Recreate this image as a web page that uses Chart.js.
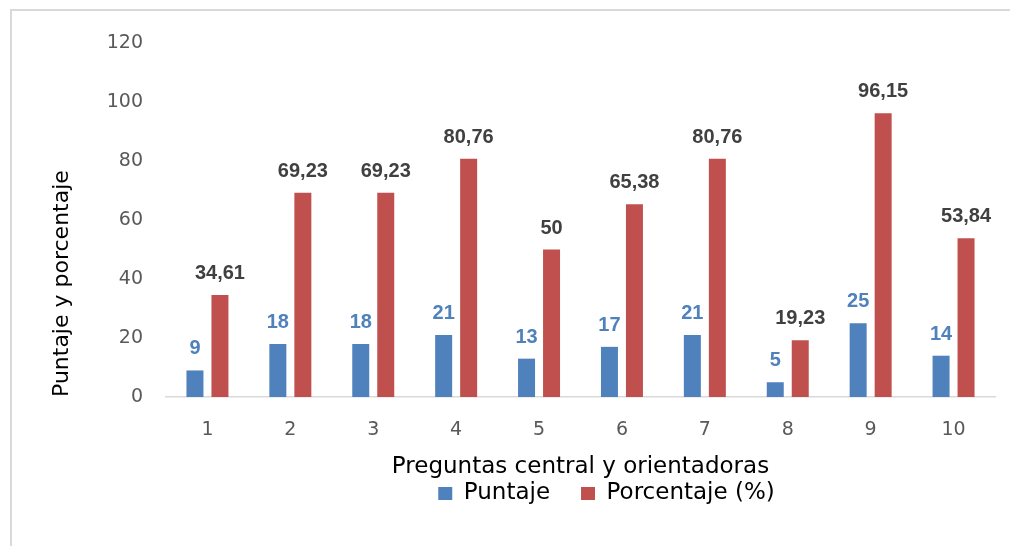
<!DOCTYPE html>
<html>
<head>
<meta charset="utf-8">
<script src="https://cdn.jsdelivr.net/npm/chart.js@4/dist/chart.umd.min.js"></script>
<style>
  html, body { margin: 0; padding: 0; background: #ffffff; }
  #wrap { position: relative; width: 1010px; height: 546px; overflow: hidden; }
  #frame { position: absolute; left: 10px; top: 9px; width: 1100px; height: 600px;
           border-left: 2px solid #d9d9d9; border-top: 2px solid #d9d9d9; box-sizing: border-box; }
  canvas { position: absolute; left: 0; top: 0; }
</style>
</head>
<body>
<div id="wrap">
  <div id="frame"></div>
  <canvas id="c" width="1010" height="546"></canvas>
</div>
<script>
const categories = ['1', '2', '3', '4', '5', '6', '7', '8', '9', '10'];
const puntaje = [9, 18, 18, 21, 13, 17, 21, 5, 25, 14];
const porcentaje = [34.61, 69.23, 69.23, 80.76, 50, 65.38, 80.76, 19.23, 96.15, 53.84];
const seriesNames = ['Puntaje', 'Porcentaje (%)'];
const yTitle = 'Puntaje y porcentaje';
const xTitle = 'Preguntas central y orientadoras';

const valueLabels = {
  id: 'valueLabels',
  afterDatasetsDraw(chart) {
    const ctx = chart.ctx;
    ctx.save();
    ctx.font = 'bold 20px "Liberation Sans", Arial, sans-serif';
    ctx.textAlign = 'center';
    ctx.textBaseline = 'alphabetic';
    chart.data.datasets.forEach((ds, i) => {
      const meta = chart.getDatasetMeta(i);
      ctx.fillStyle = ds.labelColor;
      meta.data.forEach((el, j) => {
        const txt = String(ds.data[j]).replace('.', ',');
        ctx.fillText(txt, el.x, el.y - 16);
      });
    });
    ctx.restore();
  }
};

const legendShift = {
  id: 'legendShift',
  afterLayout(chart) {
    const lg = chart.legend;
    if (!lg || !lg.lineWidths) return;
    const pad = lg.options.labels.padding;
    const groupW = lg.lineWidths[0] - pad;
    const target = (chart.chartArea.left + chart.chartArea.right) / 2 + 26;
    const current = (lg.left + pad + lg.right - lg.lineWidths[0]) / 2 + groupW / 2;
    const dx = target - current;
    lg.left += dx; lg.right += dx;
  }
};

new Chart(document.getElementById('c'), {
  type: 'bar',
  data: {
    labels: categories,
    datasets: [
      { label: seriesNames[0], data: puntaje, backgroundColor: '#4f81bd', labelColor: '#4f81bd',
        categoryPercentage: 0.603, barPercentage: 0.68 },
      { label: seriesNames[1], data: porcentaje, backgroundColor: '#c0504d', labelColor: '#404040',
        categoryPercentage: 0.603, barPercentage: 0.68 }
    ]
  },
  options: {
    responsive: false,
    animation: false,
    devicePixelRatio: 1,
    layout: { padding: { top: 43, right: 15, bottom: 31, left: 0 } },
    scales: {
      y: {
        min: 0, max: 120,
        ticks: { stepSize: 20, padding: 23, color: '#595959',
                 font: { family: '"DejaVu Sans", sans-serif', size: 19 } },
        grid: { display: false, drawTicks: false },
        border: { display: false },
        title: { display: true, text: yTitle, align: 'start', color: '#000000',
                 font: { family: '"DejaVu Sans", sans-serif', size: 22 },
                 padding: { top: 49, bottom: 0 } },
        afterFit(s) { s.width = 166; }
      },
      x: {
        ticks: { padding: 22, color: '#595959',
                 font: { family: '"DejaVu Sans", sans-serif', size: 19 } },
        grid: { display: false, drawTicks: false },
        border: { display: true, color: '#d9d9d9', width: 1.5 },
        title: { display: true, text: xTitle, color: '#000000',
                 font: { family: '"DejaVu Sans", sans-serif', size: 23 },
                 padding: { top: 0, bottom: -30 } },
        afterFit(s) { s.height = 54; }
      }
    },
    plugins: {
      legend: {
        position: 'bottom',
        labels: { boxWidth: 14, boxHeight: 13, padding: 31, color: '#000000',
                  font: { family: '"DejaVu Sans", sans-serif', size: 23 } }
      },
      tooltip: { enabled: false }
    }
  },
  plugins: [valueLabels, legendShift]
});
</script>
</body>
</html>
